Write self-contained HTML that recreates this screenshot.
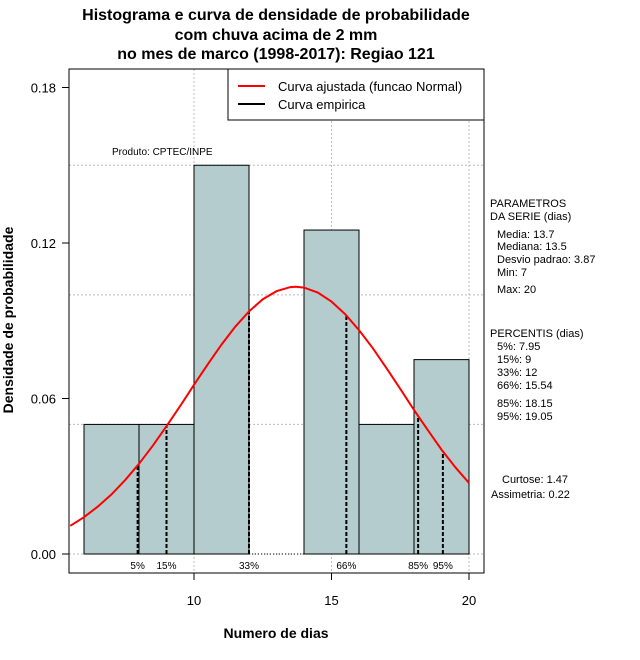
<!DOCTYPE html>
<html><head><meta charset="utf-8"><style>
body{margin:0;background:#fff}
svg{display:block;font-family:"Liberation Sans",sans-serif}
</style></head><body>
<svg id="c" width="640" height="660">
<g font-weight="bold" font-size="16" text-anchor="middle">
<text x="276" y="20">Histograma e curva de densidade de probabilidade</text>
<text x="276" y="40">com chuva acima de 2 mm</text>
<text x="276" y="59">no mes de marco (1998-2017): Regiao 121</text>
</g>
<g id="grid"></g>
<g id="bars"></g>
<g id="pct"></g>
<path id="curve" fill="none" stroke="#f00" stroke-width="2"/>
<rect x="69" y="69" width="415" height="504" fill="none" stroke="#000"/>
<g id="axes" font-size="13"></g>
<text x="276" y="638" text-anchor="middle" font-weight="bold" font-size="14">Numero de dias</text>
<text transform="translate(13,320) rotate(-90)" text-anchor="middle" font-weight="bold" font-size="14">Densidade de probabilidade</text>
<text x="112" y="155" font-size="10">Produto: CPTEC/INPE</text>
<g>
<rect x="228" y="69" width="256" height="51" fill="#fff" stroke="#000"/>
<line x1="238" y1="86" x2="265" y2="86" stroke="#f00" stroke-width="2"/>
<line x1="238" y1="104" x2="265" y2="104" stroke="#000" stroke-width="2"/>
<text x="278" y="91" font-size="13">Curva ajustada (funcao Normal)</text>
<text x="278" y="109" font-size="13">Curva empirica</text>
</g>
<g font-size="11">
<text x="490" y="207">PARAMETROS</text>
<text x="490" y="220">DA SERIE (dias)</text>
<text x="497" y="238">Media: 13.7</text>
<text x="497" y="250">Mediana: 13.5</text>
<text x="497" y="263">Desvio padrao: 3.87</text>
<text x="497" y="276">Min: 7</text>
<text x="497" y="293">Max: 20</text>
<text x="490" y="337">PERCENTIS (dias)</text>
<text x="497" y="350">5%: 7.95</text>
<text x="497" y="363">15%: 9</text>
<text x="497" y="376">33%: 12</text>
<text x="497" y="389">66%: 15.54</text>
<text x="497" y="407">85%: 18.15</text>
<text x="497" y="420">95%: 19.05</text>
<text x="502" y="483">Curtose: 1.47</text>
<text x="491" y="498">Assimetria: 0.22</text>
</g>
</svg>
<script>
const binStarts=[6,8,10,12,14,16,18];
const binDensity=[0.05,0.05,0.15,0,0.125,0.05,0.075];
const curveX=[5.5,6,6.5,7,7.5,8,8.5,9,9.5,10,10.5,11,11.5,12,12.5,13,13.5,13.7,14,14.5,15,15.5,16,16.5,17,17.5,18,18.5,19,19.5,20];
const curveY=[0.0109,0.0142,0.0183,0.0230,0.0286,0.0348,0.0418,0.0493,0.0572,0.0653,0.0732,0.0808,0.0877,0.0936,0.0983,0.1014,0.1030,0.1031,0.1028,0.1009,0.0974,0.0925,0.0864,0.0794,0.0717,0.0637,0.0556,0.0478,0.0403,0.0335,0.0274];
const pctValues=[7.95,9,12,15.54,18.15,19.05];
const pctLabels=["5%","15%","33%","66%","85%","95%"];
const xTicks=[10,15,20];
const yTicks=[0,0.06,0.12,0.18];
const yTickLabels=["0.00","0.06","0.12","0.18"];
const gridY=[0,0.05,0.10,0.15];
const NS="http://www.w3.org/2000/svg";
const sx=v=>194+(v-10)*27.5;
const sy=v=>554-v*2591.7;
function mk(p,t,a){const e=document.createElementNS(NS,t);for(const k in a)e.setAttribute(k,a[k]);p.appendChild(e);return e;}
const grid=document.getElementById('grid');
xTicks.forEach(v=>{const l=mk(grid,'line',{x1:sx(v),x2:sx(v),y1:69,y2:573,stroke:'#bbb','stroke-dasharray':'2,2'});

});
gridY.forEach(v=>{const l=mk(grid,'line',{x1:69,x2:484,y1:sy(v),y2:sy(v),stroke:'#bbb','stroke-dasharray':'2,2'});

});
const bars=document.getElementById('bars');
binStarts.forEach((s,i)=>{if(binDensity[i]<=0)return;
const r=mk(bars,'rect',{x:sx(s),y:sy(binDensity[i]),width:sx(s+2)-sx(s),height:sy(0)-sy(binDensity[i]),fill:'#b4cccd',stroke:'#000','stroke-width':1});

});
mk(bars,'line',{x1:sx(6),x2:sx(20),y1:sy(0),y2:sy(0),stroke:'#000','stroke-dasharray':'1,2'});
function dens(x){for(let i=0;i<curveX.length-1;i++){if(x>=curveX[i]&&x<=curveX[i+1]){const t=(x-curveX[i])/(curveX[i+1]-curveX[i]);return curveY[i]+t*(curveY[i+1]-curveY[i]);}}return 0;}
document.getElementById('curve').setAttribute('d',curveX.map((x,i)=>(i?'L':'M')+sx(x).toFixed(1)+','+sy(curveY[i]).toFixed(1)).join(''));
const pct=document.getElementById('pct');
pctValues.forEach((v,i)=>{const l=mk(pct,'line',{x1:sx(v),x2:sx(v),y1:sy(0),y2:sy(dens(v)),stroke:'#000','stroke-width':2,'stroke-dasharray':'4,2'});


const t=mk(pct,'text',{x:sx(v),y:569,'font-size':10,'text-anchor':'middle'});t.textContent=pctLabels[i];

});
const ax=document.getElementById('axes');
xTicks.forEach(v=>{mk(ax,'line',{x1:sx(v),x2:sx(v),y1:573,y2:580,stroke:'#000'});
const t=mk(ax,'text',{x:sx(v),y:605,'text-anchor':'middle'});t.textContent=v;

});
yTicks.forEach((v,i)=>{mk(ax,'line',{x1:62,x2:69,y1:sy(v),y2:sy(v),stroke:'#000'});
const t=mk(ax,'text',{x:56,y:sy(v)+5,'text-anchor':'end'});t.textContent=yTickLabels[i];

});
</script>
</body></html>
